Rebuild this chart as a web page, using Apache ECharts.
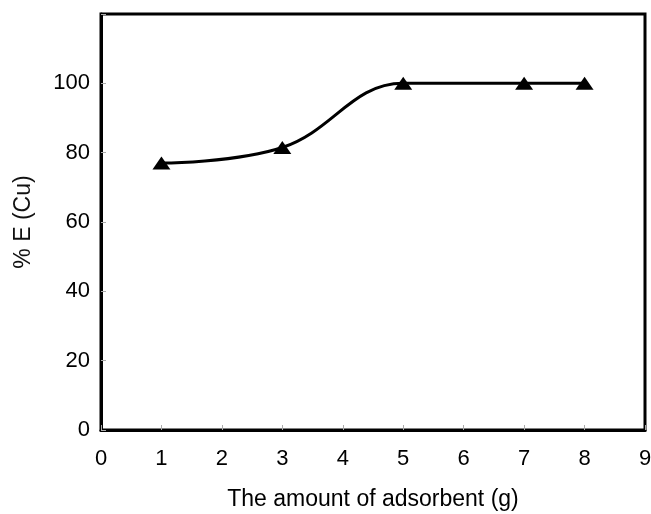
<!DOCTYPE html>
<html>
<head>
<meta charset="utf-8">
<script src="https://cdn.jsdelivr.net/npm/echarts@6/dist/echarts.min.js"></script>
<style>html,body{margin:0;padding:0;background:#fff;}#c{width:651px;height:514px;}</style>
</head>
<body>
<div id="c"></div>
<script>
const xValues = [1, 3, 5, 7, 8];
const yValues = [77, 81.5, 100, 100, 100];
const xTicks = [0, 1, 2, 3, 4, 5, 6, 7, 8, 9];
const yTicks = [0, 20, 40, 60, 80, 100];
const xTitle = 'The amount of adsorbent (g)';
const yTitle = '% E (Cu)';

const chart = echarts.init(document.getElementById('c'), null, {renderer: 'canvas'});
const font = 'Liberation Sans, Arial, sans-serif';
chart.setOption({
  animation: false,
  backgroundColor: '#fff',
  grid: {left: 101, right: 6, top: 14, bottom: 84, show: true, borderColor: '#000', borderWidth: 3,
         containLabel: false, outerBoundsMode: 'none'},
  xAxis: {
    type: 'value', min: 0, max: 9, interval: 1,
    name: xTitle, nameLocation: 'middle', nameGap: 58,
    nameTextStyle: {fontFamily: font, fontSize: 23, color: '#000'},
    axisLine: {show: true, onZero: false, lineStyle: {color: '#000', width: 3}},
    axisTick: {show: true, inside: true, length: 5, lineStyle: {color: '#aaa', width: 1}},
    axisLabel: {fontFamily: font, fontSize: 22, color: '#000', margin: 18,
      formatter: v => xTicks.includes(v) ? String(v) : ''},
    splitLine: {show: false}
  },
  yAxis: {
    type: 'value', min: 0, max: 120, interval: 20,
    name: yTitle, nameLocation: 'middle', nameGap: 66, nameRotate: 90,
    nameTextStyle: {fontFamily: font, fontSize: 23, color: '#111'},
    axisLine: {show: true, lineStyle: {color: '#000', width: 3}},
    axisTick: {show: true, inside: true, length: 5, lineStyle: {color: '#aaa', width: 1}},
    axisLabel: {fontFamily: font, fontSize: 22, color: '#000', margin: 11,
      formatter: v => yTicks.includes(v) ? String(v) : ''},
    splitLine: {show: false}
  },
  series: [{
    type: 'line',
    data: xValues.map((x, i) => [x, yValues[i]]),
    smooth: 0.4,
    symbol: 'triangle',
    symbolSize: [18, 13],
    itemStyle: {color: '#000'},
    lineStyle: {color: '#000', width: 3}
  }]
});
</script>
</body>
</html>
